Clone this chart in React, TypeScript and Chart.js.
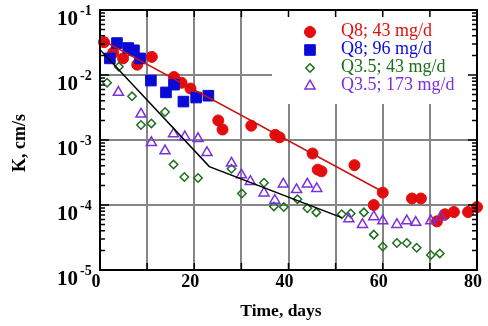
import React, { useEffect, useRef } from 'react';
import { Chart, registerables } from 'chart.js';

Chart.register(...registerables);

// ---- Data (Time in days, K in cm/s) ----
const Q8_43_T = [0.85, 2.8, 4.9, 7.9, 11, 15.7, 17.3, 19.2, 25.1, 26, 32.1, 37.2, 38.1, 45.1, 46.2, 47.0, 54.0, 58.1, 60, 66.2, 68.1, 71.5, 73.2, 75.1, 78.1, 80];
const Q8_43_K = [0.032, 0.022, 0.018, 0.0144, 0.019, 0.0093, 0.0076, 0.0062, 0.0020, 0.00145, 0.00166, 0.0012, 0.0011, 6.2e-4, 3.5e-4, 3.3e-4, 4.1e-4, 1.0e-4, 1.55e-4, 1.26e-4, 1.26e-4, 5.6e-5, 7.2e-5, 7.8e-5, 7.8e-5, 9.3e-5];

const Q8_96_T = [2.1, 3.6, 6.0, 7.2, 8.5, 10.8, 14.0, 15.7, 17.7, 20.4, 23.0];
const Q8_96_K = [0.018, 0.031, 0.026, 0.024, 0.018, 0.0082, 0.0054, 0.0071, 0.0039, 0.0045, 0.0048];

const Q35_43_T = [1.5, 4.0, 6.8, 8.7, 10.9, 13.8, 15.6, 17.9, 20.8, 27.9, 30.1, 34.8, 36.9, 39.0, 41.9, 44.0, 45.9, 51.3, 53.2, 56.0, 58.1, 60.0, 63.0, 65.1, 67.2, 70.2, 72.1];
const Q35_43_K = [0.0076, 0.0134, 0.0047, 0.0017, 0.0018, 0.0027, 4.2e-4, 2.7e-4, 2.6e-4, 3.6e-4, 1.5e-4, 2.2e-4, 9.5e-5, 9.3e-5, 1.23e-4, 8.9e-5, 7.7e-5, 7.2e-5, 7.4e-5, 7.7e-5, 3.5e-5, 2.3e-5, 2.6e-5, 2.6e-5, 2.2e-5, 1.7e-5, 1.8e-5];

const Q35_173_T = [3.9, 8.7, 10.9, 13.8, 15.6, 18.0, 20.8, 22.7, 27.9, 30.0, 31.9, 34.8, 37.1, 38.9, 41.7, 44.0, 46.0, 52.8, 55.7, 58.1, 60.0, 63.0, 65.1, 67.0, 70.2, 72.3];
const Q35_173_K = [0.0054, 0.0025, 9.1e-4, 6.8e-4, 1.24e-3, 1.12e-3, 1.05e-3, 6.4e-4, 4.4e-4, 2.9e-4, 2.3e-4, 1.53e-4, 1.18e-4, 2.1e-4, 1.72e-4, 2.1e-4, 1.79e-4, 6.1e-5, 5.0e-5, 6.6e-5, 5.7e-5, 5.0e-5, 5.7e-5, 5.4e-5, 5.7e-5, 6.5e-5];

const RED_FIT_T = [0, 60];
const RED_FIT_K = [0.036, 1.6e-4];
const BLACK_FIT_T = [0, 23.2, 51.3];
const BLACK_FIT_K = [0.0245, 3.9e-4, 6.4e-5];

const X_TICKS = [0, 10, 20, 30, 40, 50, 60, 70, 80];
const X_LABELS = [0, 20, 40, 60, 80];
const Y_DECADES = [-5, -4, -3, -2, -1];

const SERIES_LABELS = ['Q8; 43 mg/d', 'Q8; 96 mg/d', 'Q3.5; 43 mg/d', 'Q3.5; 173 mg/d'];

const RED = '#e30d0d';
const BLUE = '#0a0ad6';
const GREEN = '#1d6e1d';
const PURPLE = '#7b30e0';
const FONT = '"Liberation Serif", "Times New Roman", serif';

const pts = (t: number[], k: number[]) => t.map((x, i) => ({ x, y: k[i] }));

function drawMarker(ctx: CanvasRenderingContext2D, style: string, x: number, y: number, r: number, color: string, fill: boolean, lw: number) {
  ctx.save();
  ctx.beginPath();
  if (style === 'circle') {
    ctx.arc(x, y, r, 0, Math.PI * 2);
  } else if (style === 'rect') {
    const s = r * Math.SQRT1_2;
    ctx.rect(x - s, y - s, 2 * s, 2 * s);
  } else if (style === 'rectRot') {
    ctx.moveTo(x, y - r);
    ctx.lineTo(x + r, y);
    ctx.lineTo(x, y + r);
    ctx.lineTo(x - r, y);
    ctx.closePath();
  } else if (style === 'triangle') {
    const a = (2 * Math.PI) / 3;
    ctx.moveTo(x, y - r);
    ctx.lineTo(x + Math.sin(a) * r, y - Math.cos(a) * r);
    ctx.lineTo(x + Math.sin(2 * a) * r, y - Math.cos(2 * a) * r);
    ctx.closePath();
  }
  if (fill) {
    ctx.fillStyle = color;
    ctx.fill();
  }
  ctx.strokeStyle = color;
  ctx.lineWidth = lw;
  ctx.stroke();
  ctx.restore();
}

const decoPlugin = {
  id: 'deco',
  beforeDatasetsDraw(chart: any) {
    const { ctx, chartArea } = chart;
    // blank area behind legend (grid hidden there)
    ctx.save();
    ctx.fillStyle = '#ffffff';
    ctx.fillRect(272, chartArea.top + 1, chartArea.right - 1 - 272, 103 - chartArea.top);
    ctx.restore();
  },
  afterDraw(chart: any) {
    const { ctx, chartArea, scales } = chart;
    const xs = scales.x;
    const ys = scales.y;
    const { left, right, top, bottom } = chartArea;
    ctx.save();
    ctx.strokeStyle = '#000';
    // ticks
    ctx.lineWidth = 1.5;
    ctx.beginPath();
    for (const d of Y_DECADES) {
      const yMaj = ys.getPixelForValue(Math.pow(10, d));
      ctx.moveTo(left, yMaj); ctx.lineTo(left + 9, yMaj);
      ctx.moveTo(right, yMaj); ctx.lineTo(right - 9, yMaj);
      if (d < -1) {
        for (let m = 2; m <= 9; m++) {
          const yy = ys.getPixelForValue(m * Math.pow(10, d));
          ctx.moveTo(left, yy); ctx.lineTo(left + 5, yy);
          ctx.moveTo(right, yy); ctx.lineTo(right - 5, yy);
        }
      }
    }
    for (const t of X_TICKS) {
      const xx = xs.getPixelForValue(t);
      ctx.moveTo(xx, bottom); ctx.lineTo(xx, bottom - 7);
      ctx.moveTo(xx, top); ctx.lineTo(xx, top + 7);
    }
    ctx.stroke();
    // frame
    ctx.lineWidth = 2;
    ctx.strokeRect(left, top, right - left, bottom - top);

    // y tick labels 10^n
    ctx.fillStyle = '#000';
    for (const d of Y_DECADES) {
      const yy = ys.getPixelForValue(Math.pow(10, d));
      ctx.font = `bold 21px ${FONT}`;
      ctx.textAlign = 'right';
      ctx.textBaseline = 'alphabetic';
      ctx.fillText('10', 78, yy + 15);
      ctx.font = `bold 14px ${FONT}`;
      ctx.textAlign = 'left';
      ctx.textBaseline = 'middle';
      ctx.fillText(String(d), 80, yy + 1);
    }
    // x tick labels
    ctx.font = `bold 18px ${FONT}`;
    ctx.textAlign = 'center';
    ctx.textBaseline = 'alphabetic';
    for (const t of X_LABELS) {
      ctx.fillText(String(t), xs.getPixelForValue(t) - 4, 287);
    }
    // axis titles
    ctx.font = `bold 17.5px ${FONT}`;
    ctx.fillText('Time, days', 281, 316);
    ctx.save();
    ctx.translate(25, 143);
    ctx.rotate(-Math.PI / 2);
    ctx.font = `bold 18px ${FONT}`;
    ctx.fillText('K, cm/s', 0, 0);
    ctx.restore();

    // legend
    const ds = chart.data.datasets;
    for (let i = 0; i < 4; i++) {
      const d = ds[i];
      const my = 32 + i * 18;
      drawMarker(ctx, d.pointStyle, 310, my, d.pointRadius, d.borderColor, i < 2, d.borderWidth);
      ctx.font = `18px ${FONT}`;
      ctx.fillStyle = d.borderColor;
      ctx.textAlign = 'left';
      ctx.textBaseline = 'alphabetic';
      ctx.fillText(d.label, 341, 36 + i * 18);
    }
    ctx.restore();
  },
};

export default function App() {
  const ref = useRef<HTMLCanvasElement | null>(null);
  useEffect(() => {
    if (!ref.current) return;
    const gridColor = (c: any, edgeVals: number[]) => {
      const v = c.tick ? c.tick.value : null;
      return edgeVals.some((e) => Math.abs(e - v) < 1e-12) ? 'rgba(0,0,0,0)' : '#858585';
    };
    const chart = new Chart(ref.current, {
      type: 'scatter',
      data: {
        datasets: [
          { label: SERIES_LABELS[0], data: pts(Q8_43_T, Q8_43_K), pointStyle: 'circle', pointRadius: 5.5, borderWidth: 1, backgroundColor: RED, borderColor: RED, showLine: false, clip: false, order: 4 } as any,
          { label: SERIES_LABELS[1], data: pts(Q8_96_T, Q8_96_K), pointStyle: 'rect', pointRadius: 7.5, borderWidth: 1, backgroundColor: BLUE, borderColor: BLUE, showLine: false, clip: false, order: 3 } as any,
          { label: SERIES_LABELS[2], data: pts(Q35_43_T, Q35_43_K), pointStyle: 'rectRot', pointRadius: 4.2, borderWidth: 1.5, backgroundColor: 'rgba(0,0,0,0)', borderColor: GREEN, showLine: false, clip: false, order: 2 } as any,
          { label: SERIES_LABELS[3], data: pts(Q35_173_T, Q35_173_K), pointStyle: 'triangle', pointRadius: 5.8, borderWidth: 1.5, backgroundColor: 'rgba(0,0,0,0)', borderColor: PURPLE, showLine: false, clip: false, order: 1 } as any,
          { label: 'fit1', type: 'line', data: pts(RED_FIT_T, RED_FIT_K), borderColor: '#cc1111', borderWidth: 1.5, pointRadius: 0, showLine: true, fill: false, order: 0 } as any,
          { label: 'fit2', type: 'line', data: pts(BLACK_FIT_T, BLACK_FIT_K), borderColor: '#000', borderWidth: 1.5, pointRadius: 0, showLine: true, fill: false, order: 0 } as any,
        ],
      },
      options: {
        animation: false,
        responsive: false,
        maintainAspectRatio: false,
        layout: { padding: { top: 10, right: 11, left: 0, bottom: 0 } },
        plugins: { legend: { display: false }, tooltip: { enabled: false } },
        scales: {
          x: {
            type: 'linear',
            min: 0,
            max: 80,
            afterBuildTicks: (s: any) => { s.ticks = X_TICKS.map((v) => ({ value: v })); },
            afterFit: (s: any) => { s.height = 56; },
            ticks: { display: false },
            grid: { color: (c: any) => gridColor(c, [0, 80]), lineWidth: 2, drawTicks: false },
            border: { display: false },
          },
          y: {
            type: 'logarithmic',
            min: 1e-5,
            max: 1e-1,
            afterBuildTicks: (s: any) => { s.ticks = Y_DECADES.map((d) => ({ value: Math.pow(10, d) })); },
            afterFit: (s: any) => { s.width = 100; },
            ticks: { display: false },
            grid: { color: (c: any) => gridColor(c, [1e-5, 1e-1]), lineWidth: 2, drawTicks: false },
            border: { display: false },
          },
        },
      } as any,
      plugins: [decoPlugin],
    });
    return () => chart.destroy();
  }, []);
  return (
    <div style={{ position: 'fixed', left: 0, top: 0, width: 488, height: 326, background: '#fff' }}>
      <canvas ref={ref} width={488} height={326} />
    </div>
  );
}
